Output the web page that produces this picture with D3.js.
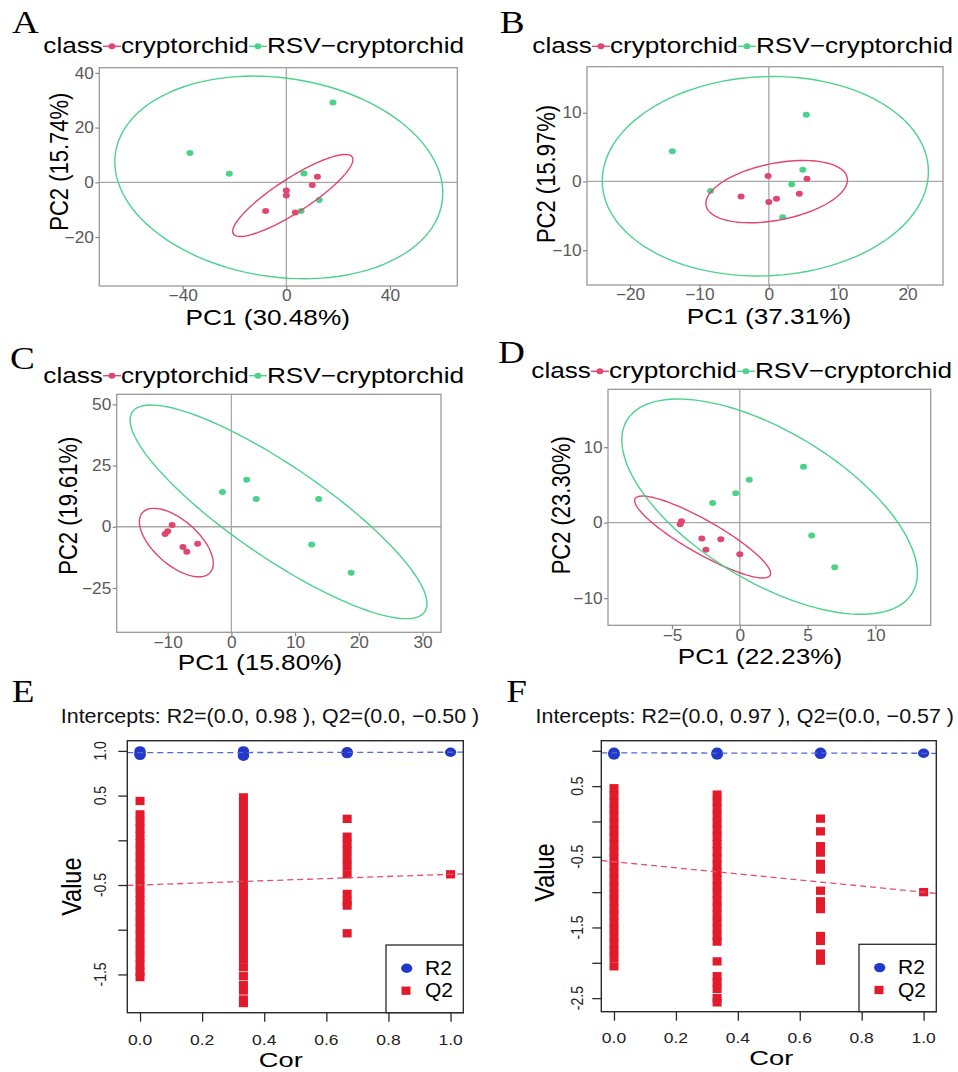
<!DOCTYPE html>
<html>
<head>
<meta charset="utf-8">
<script src="https://cdn.jsdelivr.net/npm/d3@7"></script>
<style>
  body { margin: 0; background: #fff; }
  svg { display: block; }
</style>
</head>
<body>
<div class="container"></div>
<script>
// groups & colours
const groups = ['cryptorchid', 'RSV−cryptorchid'];
const groupColors = ['#E0466F', '#4CD28B'];
const panelLetters = ['A', 'B', 'C', 'D', 'E', 'F'];

// PCA titles
const xTitles = ['PC1 (30.48%)', 'PC1 (37.31%)', 'PC1 (15.80%)', 'PC1 (22.23%)'];
const yTitles = ['PC2 (15.74%)', 'PC2 (15.97%)', 'PC2 (19.61%)', 'PC2 (23.30%)'];

// PCA scores [PC1, PC2], first cryptorchid then RSV-cryptorchid
const scoresA = [
  [[12, 2], [10, -1], [0, -3], [0, -4.8], [-8, -10.5], [3.5, -11]],
  [[18, 29.2], [-37.2, 10.7], [-22, 3.1], [6.8, 3.2], [12.7, -6.5], [5.7, -10.5]]
];
const scoresB = [
  [[-0.1, 0.8], [5.5, 0.4], [-4, -2.2], [4.4, -1.8], [1.1, -2.5], [0, -3]],
  [[5.4, 9.7], [-13.9, 4.4], [-8.4, -1.4], [4.9, 1.7], [3.3, -0.4], [2.0, -5.2]]
];
const scoresC = [
  [[-9.3, 0.7], [-10, -1.8], [-10.4, -3], [-7.6, -8.3], [-7, -10.2], [-5.3, -6.9]],
  [[-1.4, 14.2], [2.4, 19.2], [3.9, 11.3], [13.7, 11.3], [12.6, -7.2], [18.8, -18.8]]
];
const scoresD = [
  [[-4.3, 0.2], [-4.4, -0.2], [-2.8, -2.1], [-1.4, -2.2], [-2.5, -3.6], [0, -4.2]],
  [[4.7, 7.4], [0.7, 5.7], [-0.3, 3.9], [-2, 2.6], [5.3, -1.7], [7.0, -5.9]]
];

// confidence ellipses: [centre PC1, centre PC2, rightmost dPC1, rightmost dPC2, vertical half-chord]
const ellipsesA = [[2.5, -4.8, 23.2, 13.1, 7.3], [-2.9, 1.8, 63.3, -5.7, 36.6]];
const ellipsesB = [[1.13, -1.48, 10.2, 1.7, 4.2], [-0.5, 0.76, 23.5, 0.67, 14.5]];
const ellipsesC = [[-8.64, -6.45, 5.8, -8.5, 11.1], [7.4, 6.1, 23.3, -37.5, 22.3]];
const ellipsesD = [[-2.74, -1.9, 5.01, -4.81, 2.52], [2.2, 2.12, 10.9, -8.83, 11.2]];

// axis ranges & ticks
const xDomains = [[-72.2, 66.0], [-26.2, 25.1], [-18.0, 32.9], [-9.72, 14.08]];
const yDomains = [[-37.9, 41.9], [-15.07, 16.7], [-43.1, 54.1], [-13.6, 17.67]];
const xTicks = [[-40, 0, 40], [-20, -10, 0, 10, 20], [-10, 0, 10, 20, 30], [-5, 0, 5, 10]];
const yTicks = [[-20, 0, 20, 40], [-10, 0, 10], [-25, 0, 25, 50], [-10, 0, 10]];

// permutation tests (E, F)
const corValues = [0, 0.333, 0.667, 1.0];
const corDomain = [-0.041, 1.041];
const corTicks = [0, 0.2, 0.4, 0.6, 0.8, 1.0];
const corTickLabels = ['0.0', '0.2', '0.4', '0.6', '0.8', '1.0'];
const r2E = [[1.0, 0.98, 0.96, 0.95], [1.0, 0.98, 0.96, 0.94], [0.99, 0.98, 0.97], [0.985]];
const q2E = [
  [0.44, 0.29, 0.21, 0.13, 0.05, -0.03, -0.11, -0.19, -0.27, -0.35, -0.43, -0.51, -0.59, -0.67, -0.75, -0.83, -0.91, -0.99, -1.07, -1.15, -1.23, -1.31, -1.39, -1.47, -1.53],
  [0.48, 0.40, 0.32, 0.24, 0.16, 0.08, 0.00, -0.08, -0.16, -0.24, -0.32, -0.40, -0.48, -0.56, -0.64, -0.72, -0.80, -0.88, -0.96, -1.04, -1.12, -1.20, -1.28, -1.33, -1.42, -1.52, -1.62, -1.68, -1.78, -1.82],
  [0.24, 0.04, -0.04, -0.12, -0.21, -0.29, -0.38, -0.60, -0.68, -0.73, -1.04],
  [-0.38]
];
const r2F = [[0.98, 0.96, 0.95, 0.94], [0.98, 0.96, 0.95, 0.94], [0.98, 0.96, 0.95], [0.965]];
const q2F = [
  [0.47, 0.37, 0.27, 0.17, 0.07, -0.03, -0.13, -0.23, -0.33, -0.43, -0.53, -0.63, -0.73, -0.83, -0.93, -1.03, -1.13, -1.23, -1.33, -1.43, -1.53, -1.63, -1.73, -1.83, -1.93, -2.05],
  [0.38, 0.28, 0.18, 0.08, -0.02, -0.12, -0.22, -0.32, -0.42, -0.52, -0.62, -0.72, -0.82, -0.92, -1.02, -1.12, -1.22, -1.32, -1.42, -1.52, -1.62, -1.70, -1.98, -2.19, -2.28, -2.37, -2.50, -2.56],
  [0.04, -0.14, -0.35, -0.44, -0.60, -0.68, -0.98, -1.13, -1.24, -1.62, -1.69, -1.87, -1.97],
  [-1.0]
];
// regression lines: [value at Cor 0, value at Cor 1]
const r2LineE = [0.98, 0.985];
const q2LineE = [-0.50, -0.38];
const r2LineF = [0.97, 0.965];
const q2LineF = [-0.57, -1.0];
const permTitles = [
  'Intercepts: R2=(0.0, 0.98 ), Q2=(0.0, −0.50 )',
  'Intercepts: R2=(0.0, 0.97 ), Q2=(0.0, −0.57 )'
];
const yTicksE = [1.0, 0.5, 0, -0.5, -1.0, -1.5];
const yTickLabelsE = ['1.0', '0.5', '', '-0.5', '', '-1.5'];
const yTicksF = [1.0, 0.5, 0, -0.5, -1.0, -1.5, -2.0, -2.5];
const yTickLabelsF = ['', '0.5', '', '-0.5', '', '-1.5', '', '-2.5'];

const sans = '"Liberation Sans", Arial, Helvetica, sans-serif';
const serif = '"Liberation Serif", "Times New Roman", serif';

const svg = d3.select('.container').append('svg').attr('width', 958).attr('height', 1072);

//text helper, sx stretches glyphs horizontally like the source image
const label = (parent, x, y, str, opt) => {
  const o = Object.assign({ size: 16, sx: 1, anchor: 'start', rot: 0, fill: '#000', family: sans, dy: null }, opt);
  const t = parent
    .append('text')
    .attr('transform', `translate(${x},${y}) scale(${o.sx},1)` + (o.rot ? ` rotate(${o.rot})` : ''))
    .attr('text-anchor', o.anchor)
    .attr('font-family', o.family)
    .attr('font-size', o.size)
    .attr('fill', o.fill)
    .text(str);
  if (o.dy) t.attr('dy', o.dy);
  return t;
};

//PCA panels
const pcaScores = [scoresA, scoresB, scoresC, scoresD];
const pcaEllipses = [ellipsesA, ellipsesB, ellipsesC, ellipsesD];
const pcaLayout = [
  { box: [99.3, 67.7, 457.3, 286], letter: [12, 33.3], legend: [43.3, 53.3], xTitle: [267.7, 324.5], yTitle: [59, 161.7] },
  { box: [587, 66.7, 943, 285], letter: [499.7, 33.3], legend: [532.3, 53.3], xTitle: [769, 323.5], yTitle: [546.3, 174] },
  { box: [116.7, 394.3, 441, 632.3], letter: [10, 369.3], legend: [43.3, 382.7], xTitle: [260, 670], yTitle: [68.3, 505.7] },
  { box: [608, 389.3, 930.7, 625.3], letter: [498, 363.3], legend: [531.3, 378.3], xTitle: [760, 663.5], yTitle: [561.3, 505.3] }
];

const renderPca = i => {
  const L = pcaLayout[i];
  const [l, t, r, b] = L.box;
  const x = d3.scaleLinear().domain(xDomains[i]).range([l, r]);
  const y = d3.scaleLinear().domain(yDomains[i]).range([b, t]);
  const g = svg.append('g').attr('class', 'pca');

  //zero reference lines
  g.append('line').attr('x1', l).attr('x2', r).attr('y1', y(0)).attr('y2', y(0))
    .attr('stroke', '#a8a8a8').attr('stroke-width', 1.3);
  g.append('line').attr('x1', x(0)).attr('x2', x(0)).attr('y1', t).attr('y2', b)
    .attr('stroke', '#a8a8a8').attr('stroke-width', 1.3);

  //points
  pcaScores[i].forEach((pts, j) => {
    g.append('g')
      .selectAll('ellipse')
      .data(pts)
      .join('ellipse')
      .attr('cx', d => x(d[0]))
      .attr('cy', d => y(d[1]))
      .attr('rx', 3.5)
      .attr('ry', 3.0)
      .attr('fill', groupColors[j]);
  });

  //confidence ellipses
  const line = d3.line().x(d => x(d[0])).y(d => y(d[1]));
  pcaEllipses[i].forEach((e, j) => {
    const pts = d3.range(0, 121).map(k => {
      const a = (k / 120) * 2 * Math.PI;
      return [e[0] + e[2] * Math.cos(a), e[1] + e[3] * Math.cos(a) + e[4] * Math.sin(a)];
    });
    g.append('path').attr('d', line(pts)).attr('fill', 'none')
      .attr('stroke', groupColors[j]).attr('stroke-width', 1.4);
  });

  //panel border
  g.append('rect').attr('x', l).attr('y', t).attr('width', r - l).attr('height', b - t)
    .attr('fill', 'none').attr('stroke', '#9a9a9a').attr('stroke-width', 1.3);

  //axes
  const bottomAxisGroup = g.append('g').attr('transform', `translate(0,${b})`);
  d3.axisBottom(x).tickValues(xTicks[i]).tickSize(4).tickSizeOuter(0).tickPadding(0)(bottomAxisGroup);
  const leftAxisGroup = g.append('g').attr('transform', `translate(${l},0)`);
  d3.axisLeft(y).tickValues(yTicks[i]).tickSize(4).tickSizeOuter(0).tickPadding(1)(leftAxisGroup);
  g.selectAll('.domain').remove();
  g.selectAll('.tick line').attr('stroke', '#8a8a8a').attr('stroke-width', 1.2);
  g.selectAll('.tick text')
    .attr('font-family', sans)
    .attr('font-size', 16)
    .attr('fill', '#5a5a5a')
    .attr('transform', 'scale(1.08,1)');

  //axis titles
  label(g, L.xTitle[0], L.xTitle[1], xTitles[i], { size: 22, sx: 1.19, anchor: 'middle' });
  label(g, L.yTitle[0], L.yTitle[1], yTitles[i], { size: 22, sx: 1.19, anchor: 'middle', rot: -90, dy: '0.35em' });

  //legend: class -•- cryptorchid -•- RSV-cryptorchid
  const sx = 1.19;
  const keyW = 18;
  let cx = L.legend[0];
  const ly = L.legend[1];
  const t0 = label(g, cx, ly, 'class', { size: 22, sx });
  cx += t0.node().getComputedTextLength() * sx;
  groups.forEach((name, j) => {
    g.append('line').attr('x1', cx).attr('x2', cx + keyW).attr('y1', ly - 7).attr('y2', ly - 7)
      .attr('stroke', groupColors[j]).attr('stroke-width', 1.4);
    g.append('ellipse').attr('cx', cx + keyW / 2).attr('cy', ly - 7).attr('rx', 3.4).attr('ry', 3)
      .attr('fill', groupColors[j]);
    cx += keyW;
    const tt = label(g, cx, ly, name, { size: 22, sx });
    cx += tt.node().getComputedTextLength() * sx;
  });

  //panel letter
  label(svg, L.letter[0], L.letter[1], panelLetters[i], { size: 31, sx: 1.2, family: serif });
};

//permutation panels
const permData = [
  { r2: r2E, q2: q2E, r2Line: r2LineE, q2Line: q2LineE, yTicks: yTicksE, yLabels: yTickLabelsE },
  { r2: r2F, q2: q2F, r2Line: r2LineF, q2Line: q2LineF, yTicks: yTicksF, yLabels: yTickLabelsF }
];
const permLayout = [
  { box: [127.3, 740.7, 463.3, 1012.7], y: [-1.928, 1.114], letter: [11.7, 701.7], title: [270, 723.3],
    yLabX: 100.5, value: [71.7, 886.7], cor: [280.8, 1066.7], tickBase: 1045, legend: [386, 945] },
  { box: [601.3, 740.7, 936.3, 1011.7], y: [-2.692, 1.143], letter: [506.3, 701.7], title: [744.7, 722.7],
    yLabX: 577.5, value: [544.7, 872.5], cor: [771.3, 1065], tickBase: 1043, legend: [859, 944.3] }
];
const blue = '#2238C8';
const red = '#E31A2A';

const renderPerm = i => {
  const D = permData[i];
  const L = permLayout[i];
  const [l, t, r, b] = L.box;
  const x = d3.scaleLinear().domain(corDomain).range([l, r]);
  const y = d3.scaleLinear().domain(L.y).range([b, t]);
  const g = svg.append('g').attr('class', 'perm');

  const clipId = 'permclip' + i;
  g.append('clipPath').attr('id', clipId).append('rect')
    .attr('x', l).attr('y', t).attr('width', r - l).attr('height', b - t);

  //Q2 squares
  const sq = D.q2.flatMap((vals, k) => vals.map(v => [corValues[k], v]));
  g.append('g').selectAll('rect').data(sq).join('rect')
    .attr('x', d => x(d[0]) - 4.5).attr('y', d => y(d[1]) - 4.15)
    .attr('width', 9).attr('height', 8.3).attr('fill', red);

  //R2 dots
  const dots = D.r2.flatMap((vals, k) => vals.map(v => [corValues[k], v]));
  g.append('g').selectAll('ellipse').data(dots).join('ellipse')
    .attr('cx', d => x(d[0])).attr('cy', d => y(d[1]))
    .attr('rx', 5.6).attr('ry', 4.7).attr('fill', blue);

  //regression lines across the plot
  const lineFor = (coef, colour) => {
    const [x0, x1] = x.domain();
    g.append('line')
      .attr('clip-path', `url(#${clipId})`)
      .attr('x1', x(x0)).attr('y1', y(coef[0] + (coef[1] - coef[0]) * x0))
      .attr('x2', x(x1)).attr('y2', y(coef[0] + (coef[1] - coef[0]) * x1))
      .attr('stroke', colour).attr('stroke-width', 1.3).attr('stroke-dasharray', '6 4');
  };
  lineFor(D.r2Line, '#5467D6');
  lineFor(D.q2Line, '#E2506C');

  //frame
  g.append('rect').attr('x', l).attr('y', t).attr('width', r - l).attr('height', b - t)
    .attr('fill', 'none').attr('stroke', '#2a2a2a').attr('stroke-width', 1.4);

  //x axis
  const bottomAxisGroup = g.append('g').attr('transform', `translate(0,${b})`);
  d3.axisBottom(x).tickValues(corTicks).tickSize(9).tickSizeOuter(0).tickFormat('')(bottomAxisGroup);
  corTicks.forEach((v, k) => {
    label(g, x(v), L.tickBase, corTickLabels[k], { size: 14, sx: 1.25, anchor: 'middle', fill: '#222' });
  });

  //y axis
  const leftAxisGroup = g.append('g').attr('transform', `translate(${l},0)`);
  d3.axisLeft(y).tickValues(D.yTicks).tickSize(9).tickSizeOuter(0).tickFormat('')(leftAxisGroup);
  D.yTicks.forEach((v, k) => {
    if (D.yLabels[k]) {
      label(g, L.yLabX, y(v), D.yLabels[k], { size: 14, sx: 1.2, anchor: 'middle', rot: -90, dy: '0.35em', fill: '#222' });
    }
  });
  g.selectAll('.domain').remove();
  g.selectAll('.tick line').attr('stroke', '#2a2a2a').attr('stroke-width', 1.3);

  //titles
  label(g, L.title[0], L.title[1], permTitles[i], { size: 21, sx: 1.02, anchor: 'middle', fill: '#111' });
  label(g, L.cor[0], L.cor[1], 'Cor', { size: 21, sx: 1.3, anchor: 'middle' });
  label(g, L.value[0], L.value[1], 'Value', { size: 23.5, sx: 1.17, anchor: 'middle', rot: -90, dy: '0.35em' });

  //legend
  const [lx, ly] = L.legend;
  g.append('rect').attr('x', lx).attr('y', ly).attr('width', r - lx).attr('height', b - ly)
    .attr('fill', '#fff').attr('stroke', '#2a2a2a').attr('stroke-width', 1.3);
  g.append('ellipse').attr('cx', lx + 20.7).attr('cy', ly + 23.3).attr('rx', 5.6).attr('ry', 4.7).attr('fill', blue);
  g.append('rect').attr('x', lx + 20 - 4.5).attr('y', ly + 45.7 - 4.15).attr('width', 9).attr('height', 8.3).attr('fill', red);
  label(g, lx + 39, ly + 30, 'R2', { size: 21 });
  label(g, lx + 39, ly + 52.3, 'Q2', { size: 21 });

  label(svg, L.letter[0], L.letter[1], panelLetters[4 + i], { size: 31, sx: 1.2, family: serif });
};

[0, 1, 2, 3].forEach(renderPca);
[0, 1].forEach(renderPerm);
</script>
</body>
</html>
